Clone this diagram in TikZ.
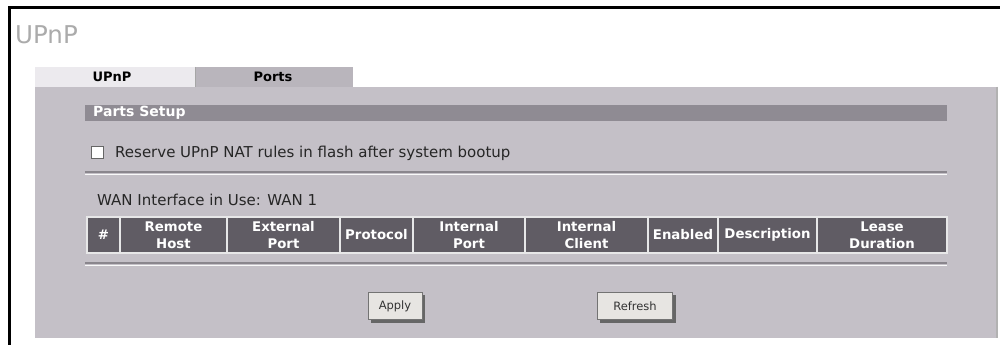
\documentclass[tikz,border=0pt]{standalone}
\usepackage{fontspec}
\setmainfont{DejaVu Sans}
\usepackage{xcolor}
\usepackage{tikz}

\definecolor{panelgray}{HTML}{C4C0C7}
\definecolor{bargray}{HTML}{8F8B93}
\definecolor{headgray}{HTML}{605C64}
\definecolor{tabon}{HTML}{ECEAEE}
\definecolor{taboff}{HTML}{B9B5BC}
\definecolor{titlegray}{HTML}{ABABAB}
\definecolor{linegray}{HTML}{8A868D}
\definecolor{btnface}{HTML}{E7E5E2}

\tikzset{
  uitext/.style={anchor=west, inner sep=0pt, font=\fontsize{15}{17}\selectfont, text=black!85},
  headtext/.style={align=center, inner sep=0pt, text=white, font=\bfseries\fontsize{13.3}{16.5}\selectfont},
  tabtext/.style={inner sep=0pt, font=\bfseries\fontsize{13}{15}\selectfont},
  btn/.style={draw=black!55, fill=btnface, minimum height=27pt, inner sep=0pt,
              font=\fontsize{11.5}{13}\selectfont, text=black!80}
}

\begin{document}
\begin{tikzpicture}[x=1pt,y=1pt]
        \useasboundingbox (0,0) rectangle (1005,-345);
        \fill [white] (0,0) rectangle (1005,-345);
        % frame
        \draw [black, line width=3pt] (9,-345) -- (9,-8) -- (1000,-8);
        \node [anchor=west, inner sep=0pt, text=titlegray, font=\fontsize{24.5}{26}\selectfont] (title) at (15,-35) {UPnP};
        % panel and tabs
        \fill [panelgray] (35,-87) rectangle (997,-338);
        \draw [black!30, line width=1.5pt] (997,-87) -- (997,-338);
        \fill [tabon] (35,-67) rectangle (195,-87);
        \fill [taboff] (195,-67) rectangle (353,-87);
        \draw [black!35] (195,-67) -- (195,-87);
        \node [tabtext] (tabupnp) at (112,-77) {UPnP};
        \node [tabtext] (tabports) at (273,-77) {Ports};
        % section bar
        \fill [bargray] (85,-105) rectangle (947,-121);
        \node [anchor=west, inner sep=0pt, text=white, font=\bfseries\fontsize{14}{15}\selectfont] (setup) at (93,-113) {Parts Setup};
        % checkbox row
        \draw [black!60, fill=white] (91,-146) rectangle (103,-158);
        \draw [white, line width=1pt] (92,-157) -- (102,-157) -- (102,-147);
        \node [uitext] (reserve) at (115,-153) {Reserve UPnP NAT rules in flash after system bootup};
        \draw [linegray, line width=1.5pt] (85,-172) -- (947,-172);
        \draw [white!90!panelgray] (85,-174) -- (947,-174);
        \node [uitext] (wan) at (97,-200) {WAN Interface in Use: WAN 1};
        % table header
        \fill [headgray] (87,-217) rectangle (947,-253);
        \draw [white!85!headgray, line width=1.2pt] (87,-217) rectangle (947,-253);
        \foreach \xa/\xb/\lbl/\nm in {87/120/\#/hnum, 120/227/Remote\\Host/hhost,
            227/340/External\\Port/hext, 340/413/Protocol/hproto, 413/525/Internal\\Port/hint,
            525/648/Internal\\Client/hclient, 648/718/Enabled/henab,
            718/817/Description/hdesc, 817/947/Lease\\Duration/hlease}{
          \draw [white!85!headgray, line width=1.2pt] (\xb,-217) -- (\xb,-253);
          \node [headtext] (\nm) at ({(\xa+\xb)/2},-235) {\lbl};
        }
        \draw [linegray, line width=1.5pt] (85,-263) -- (947,-263);
        \draw [white!90!panelgray] (85,-265) -- (947,-265);
        % buttons
        \fill [black!60] (371,-295) rectangle (425,-323);
        \node [btn, minimum width=54pt] (apply) at (395,-306) {Apply};
        \fill [black!60] (600,-295) rectangle (676,-323);
        \node [btn, minimum width=75pt] (refresh) at (635,-306) {Refresh};
\end{tikzpicture}
\end{document}
